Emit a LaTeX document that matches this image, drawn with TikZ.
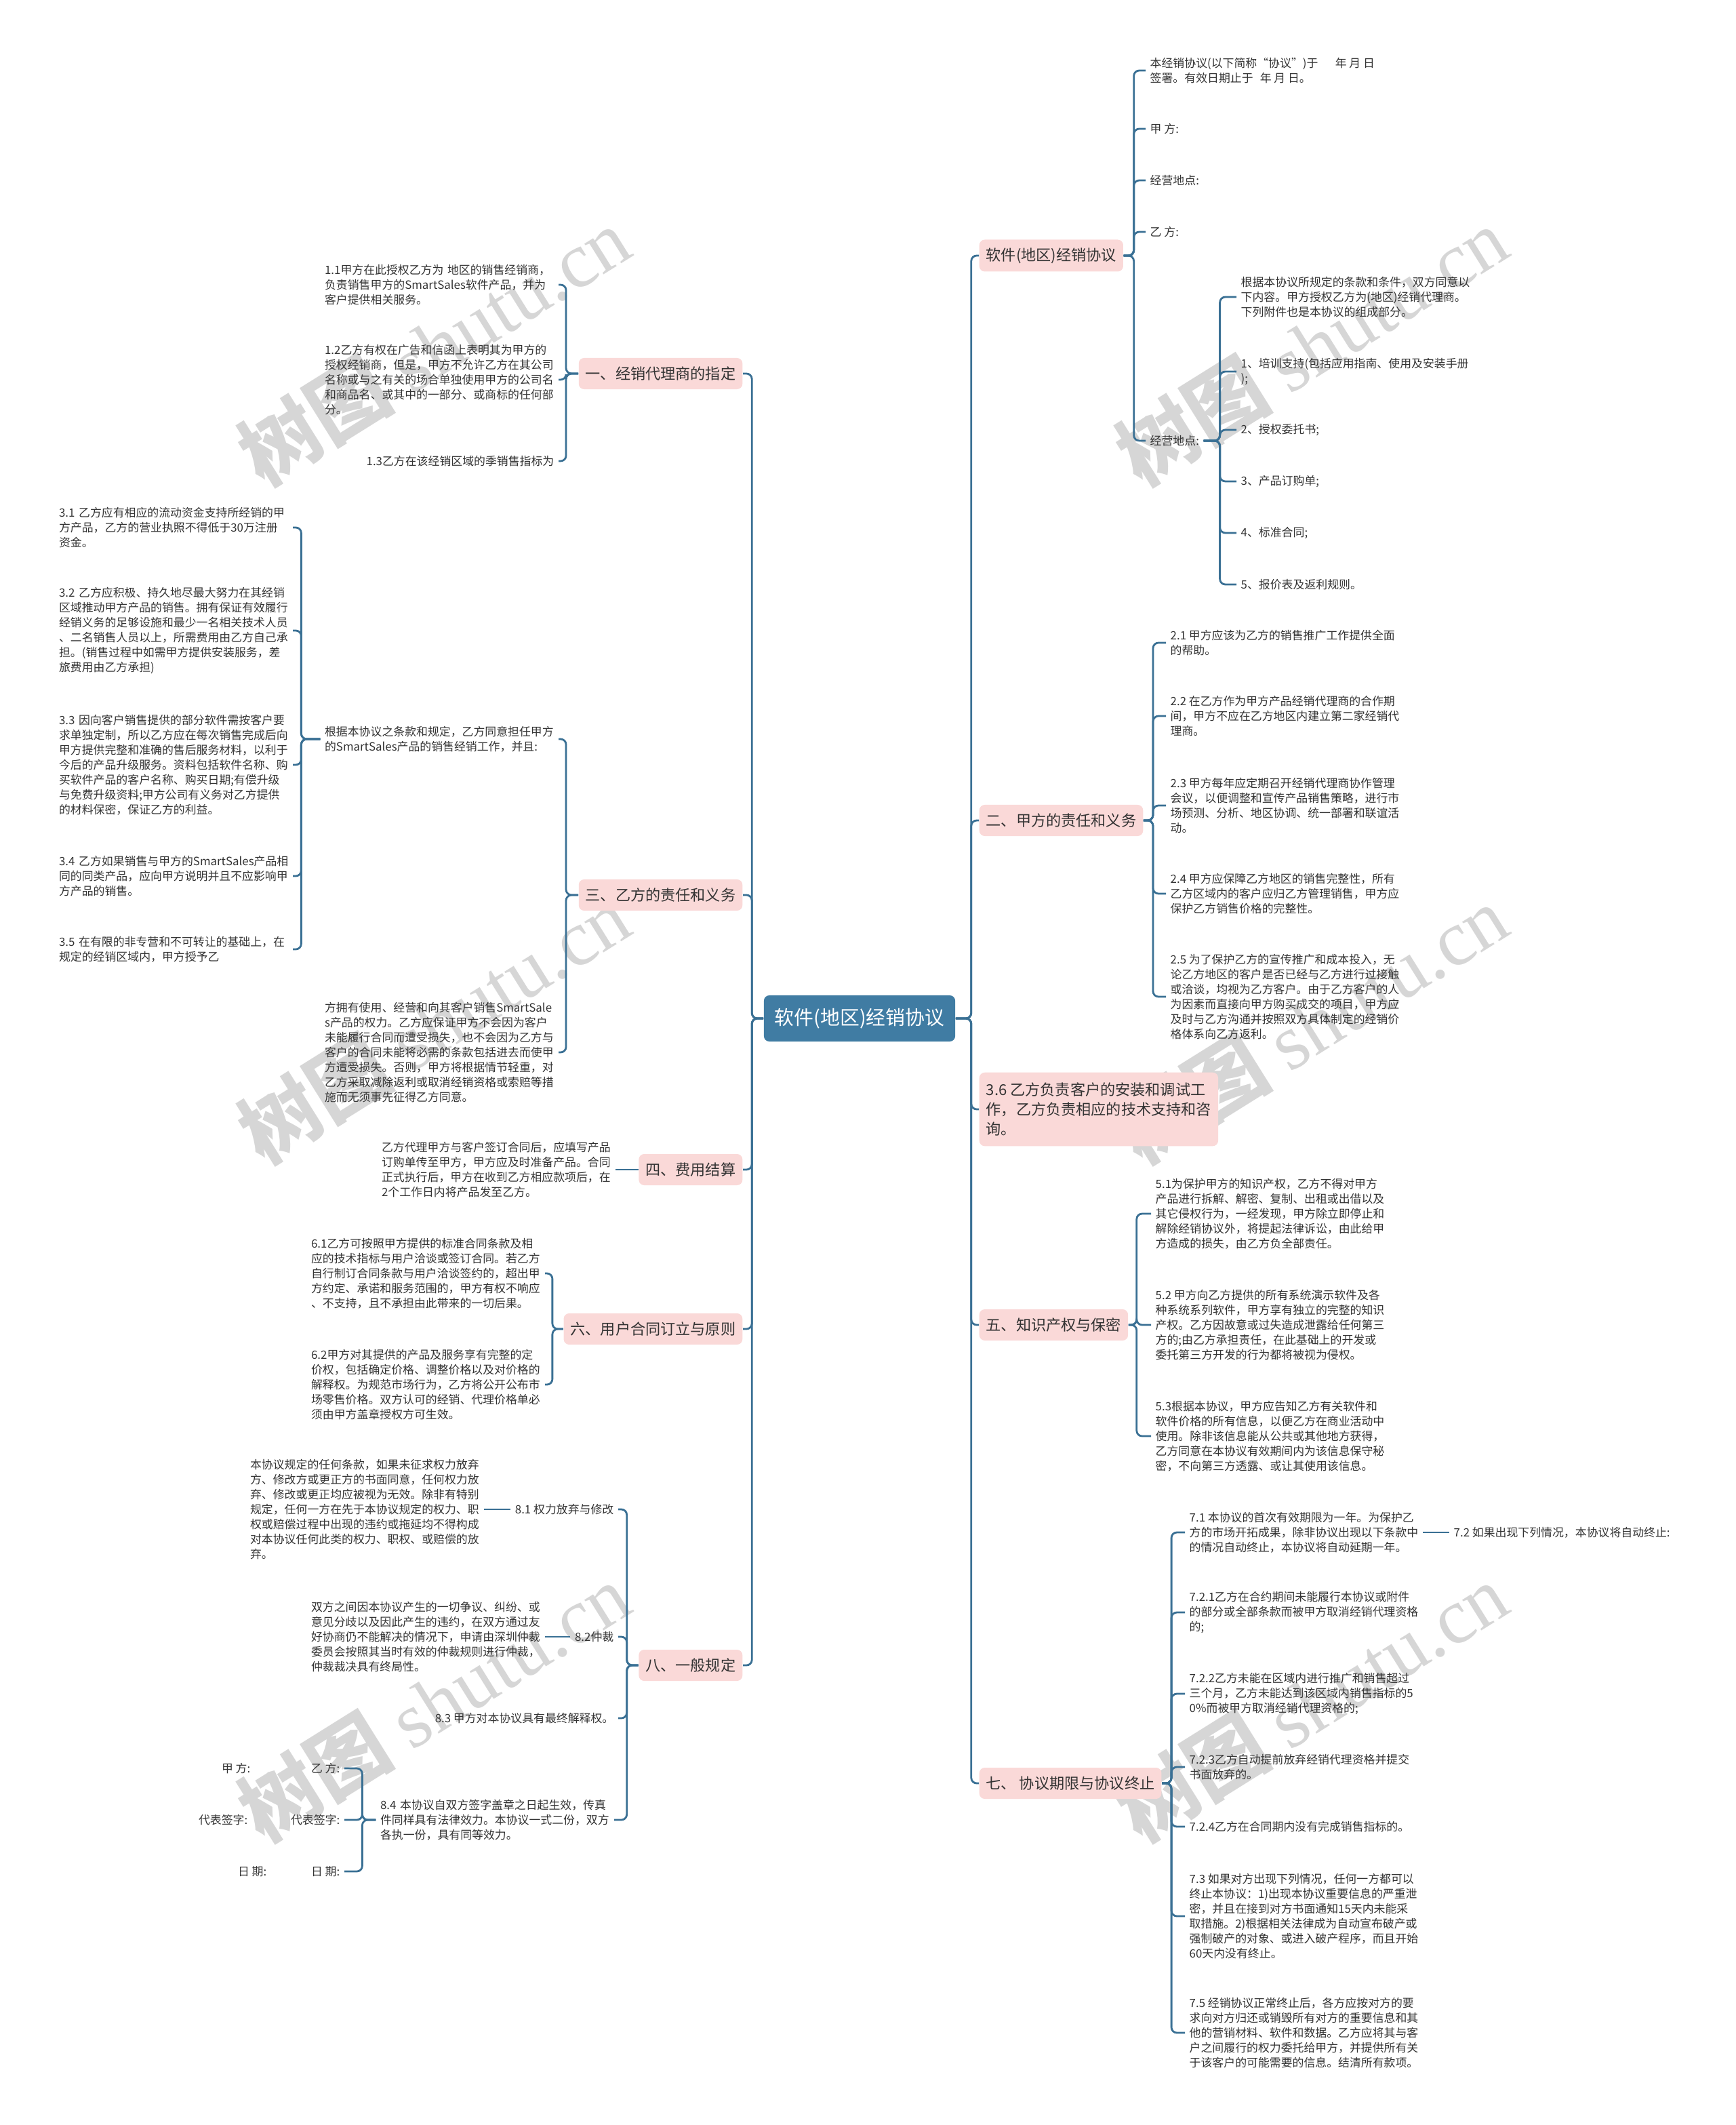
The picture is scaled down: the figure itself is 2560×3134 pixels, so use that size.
\documentclass[tikz,border=0pt]{standalone}
\usepackage{fontspec}
\setmainfont{Noto Sans CJK SC}
\newfontfamily\wmlatin{Liberation Serif}
\definecolor{ink}{RGB}{51,51,51}
\definecolor{pinkbox}{RGB}{250,217,216}
\definecolor{rootblue}{RGB}{64,124,163}
\definecolor{linkblue}{RGB}{58,112,148}
\definecolor{wmgray}{RGB}{214,214,214}
\hyphenpenalty=10000
\exhyphenpenalty=10000

\begin{document}
\begin{tikzpicture}[x=0.01cm,y=-0.01cm,
 every node/.style={text=ink},
 leaf/.style={font=\fontsize{4.8pt}{6.26pt}\selectfont,align=left,inner xsep=0.6mm,inner ysep=0.4mm},
 leafr/.style={leaf,anchor=west},
 leafl/.style={leaf,anchor=east},
 block/.style={leafl,text width=33.8mm},
 topic/.style={fill=pinkbox,rounded corners=0.8mm,font=\fontsize{6.3pt}{8.25pt}\selectfont,inner xsep=1mm,inner ysep=1.2mm,minimum height=4.6mm,align=left},
 topicr/.style={topic,anchor=west},
 topicl/.style={topic,anchor=east},
 central/.style={fill=rootblue,text=white,rounded corners=0.8mm,font=\fontsize{8.2pt}{10pt}\selectfont,minimum width=28.2mm,minimum height=6.8mm},
 branchline/.style={draw=linkblue,line width=0.8pt,rounded corners=0.8mm},
 wmark/.style={text=wmgray,rotate=32,font=\fontsize{33pt}{33pt}\selectfont}]
\useasboundingbox (0,0) rectangle (2560,3134);
\node[wmark] (wm1) at (640,510) {{\bfseries 树图} {\wmlatin shutu.cn}};
\node[wmark] (wm2) at (1935,510) {{\bfseries 树图} {\wmlatin shutu.cn}};
\node[wmark] (wm3) at (640,1510) {{\bfseries 树图} {\wmlatin shutu.cn}};
\node[wmark] (wm4) at (1935,1510) {{\bfseries 树图} {\wmlatin shutu.cn}};
\node[wmark] (wm5) at (640,2510) {{\bfseries 树图} {\wmlatin shutu.cn}};
\node[wmark] (wm6) at (1935,2510) {{\bfseries 树图} {\wmlatin shutu.cn}};

\node[central] (root) at (1268,1502) {软件(地区)经销协议};

\node[topicr] (r1) at (1444,377) {软件(地区)经销协议};
\node[leafr] (r1a) at (1690,104) {本经销协议(以下简称“协议”)于\hspace{1.5em}年~月~日\\签署。有效日期止于\hspace{0.6em}年~月~日。};
\node[leafr] (r1b) at (1690,190) {甲~方:};
\node[leafr] (r1c) at (1690,266) {经营地点:};
\node[leafr] (r1d) at (1690,342) {乙~方:};
\node[leafr] (r1e) at (1690,650) {经营地点:};
\node[leafr] (r1e1) at (1824,438) {根据本协议所规定的条款和条件，双方同意以\\下内容。甲方授权乙方为(地区)经销代理商。\\下列附件也是本协议的组成部分。};
\node[leafr] (r1e2) at (1824,548) {1、培训支持(包括应用指南、使用及安装手册\\);};
\node[leafr] (r1e3) at (1824,634) {2、授权委托书;};
\node[leafr] (r1e4) at (1824,710) {3、产品订购单;};
\node[leafr] (r1e5) at (1824,786) {4、标准合同;};
\node[leafr] (r1e6) at (1824,862) {5、报价表及返利规则。};

\node[topicr] (r2) at (1444,1210) {二、甲方的责任和义务};
\node[leafr] (r2a) at (1720,948) {2.1~甲方应该为乙方的销售推广工作提供全面\\的帮助。};
\node[leafr] (r2b) at (1720,1056) {2.2~在乙方作为甲方产品经销代理商的合作期\\间，甲方不应在乙方地区内建立第二家经销代\\理商。};
\node[leafr] (r2c) at (1720,1188) {2.3~甲方每年应定期召开经销代理商协作管理\\会议，以便调整和宣传产品销售策略，进行市\\场预测、分析、地区协调、统一部署和联谊活\\动。};
\node[leafr] (r2d) at (1720,1318) {2.4~甲方应保障乙方地区的销售完整性，所有\\乙方区域内的客户应归乙方管理销售，甲方应\\保护乙方销售价格的完整性。};
\node[leafr] (r2e) at (1720,1470) {2.5~为了保护乙方的宣传推广和成本投入，无\\论乙方地区的客户是否已经与乙方进行过接触\\或洽谈，均视为乙方客户。由于乙方客户的人\\为因素而直接向甲方购买成交的项目，甲方应\\及时与乙方沟通并按照双方具体制定的经销价\\格体系向乙方返利。};

\node[topicr,inner ysep=1.5mm] (r3) at (1444,1636) {3.6~乙方负责客户的安装和调试工\\作，乙方负责相应的技术支持和咨\\询。};

\node[topicr] (r4) at (1444,1954) {五、知识产权与保密};
\node[leafr] (r4a) at (1698,1790) {5.1为保护甲方的知识产权，乙方不得对甲方\\产品进行拆解、解密、复制、出租或出借以及\\其它侵权行为，一经发现，甲方除立即停止和\\解除经销协议外，将提起法律诉讼，由此给甲\\方造成的损失，由乙方负全部责任。};
\node[leafr] (r4b) at (1698,1954) {5.2~甲方向乙方提供的所有系统演示软件及各\\种系统系列软件，甲方享有独立的完整的知识\\产权。乙方因故意或过失造成泄露给任何第三\\方的;由乙方承担责任，在此基础上的开发或\\委托第三方开发的行为都将被视为侵权。};
\node[leafr] (r4c) at (1698,2118) {5.3根据本协议，甲方应告知乙方有关软件和\\软件价格的所有信息，以便乙方在商业活动中\\使用。除非该信息能从公共或其他地方获得，\\乙方同意在本协议有效期间内为该信息保守秘\\密，不向第三方透露、或让其使用该信息。};

\node[topicr] (r5) at (1444,2630) {七、~协议期限与协议终止};
\node[leafr] (r5a) at (1748,2260) {7.1~本协议的首次有效期限为一年。为保护乙\\方的市场开拓成果，除非协议出现以下条款中\\的情况自动终止，本协议将自动延期一年。};
\node[leafr] (r5a1) at (2138,2260) {7.2~如果出现下列情况，本协议将自动终止:};
\node[leafr] (r5b) at (1748,2378) {7.2.1乙方在合约期间未能履行本协议或附件\\的部分或全部条款而被甲方取消经销代理资格\\的;};
\node[leafr] (r5c) at (1748,2498) {7.2.2乙方未能在区域内进行推广和销售超过\\三个月，乙方未能达到该区域内销售指标的5\\0\%而被甲方取消经销代理资格的;};
\node[leafr] (r5d) at (1748,2606) {7.2.3乙方自动提前放弃经销代理资格并提交\\书面放弃的。};
\node[leafr] (r5e) at (1748,2694) {7.2.4乙方在合同期内没有完成销售指标的。};
\node[leafr] (r5f) at (1748,2826) {7.3~如果对方出现下列情况，任何一方都可以\\终止本协议：1)出现本协议重要信息的严重泄\\密，并且在接到对方书面通知15天内未能采\\取措施。2)根据相关法律成为自动宣布破产或\\强制破产的对象、或进入破产程序，而且开始\\60天内没有终止。};
\node[leafr] (r5g) at (1748,2998) {7.5~经销协议正常终止后，各方应按对方的要\\求向对方归还或销毁所有对方的重要信息和其\\他的营销材料、软件和数据。乙方应将其与客\\户之间履行的权力委托给甲方，并提供所有关\\于该客户的可能需要的信息。结清所有款项。};

\node[topicl] (l1) at (1096,551) {一、经销代理商的指定};
\node[block] (l1a) at (824,420) {1.1甲方在此授权乙方为~地区的销售经销商，\\负责销售甲方的SmartSales软件产品，并为\\客户提供相关服务。};
\node[block] (l1b) at (824,560) {1.2乙方有权在广告和信函上表明其为甲方的\\授权经销商，但是，甲方不允许乙方在其公司\\名称或与之有关的场合单独使用甲方的公司名\\和商品名、或其中的一部分、或商标的任何部\\分。};
\node[leafl] (l1c) at (824,680) {1.3乙方在该经销区域的季销售指标为};

\node[topicl] (l2) at (1096,1320) {三、乙方的责任和义务};
\node[block] (l2a) at (824,1090) {根据本协议之条款和规定，乙方同意担任甲方\\的SmartSales产品的销售经销工作，并且:};
\node[block] (l2b) at (824,1552) {方拥有使用、经营和向其客户销售SmartSale\\s产品的权力。乙方应保证甲方不会因为客户\\未能履行合同而遭受损失，也不会因为乙方与\\客户的合同未能将必需的条款包括进去而使甲\\方遭受损失。否则，甲方将根据情节轻重，对\\乙方采取减除返利或取消经销资格或索赔等措\\施而无须事先征得乙方同意。};
\node[block] (l2a1) at (432,778) {3.1~乙方应有相应的流动资金支持所经销的甲\\方产品，乙方的营业执照不得低于30万注册\\资金。};
\node[block] (l2a2) at (432,930) {3.2~乙方应积极、持久地尽最大努力在其经销\\区域推动甲方产品的销售。拥有保证有效履行\\经销义务的足够设施和最少一名相关技术人员\\、二名销售人员以上，所需费用由乙方自己承\\担。(销售过程中如需甲方提供安装服务，差\\旅费用由乙方承担)};
\node[block] (l2a3) at (432,1128) {3.3~因向客户销售提供的部分软件需按客户要\\求单独定制，所以乙方应在每次销售完成后向\\甲方提供完整和准确的售后服务材料，以利于\\今后的产品升级服务。资料包括软件名称、购\\买软件产品的客户名称、购买日期;有偿升级\\与免费升级资料;甲方公司有义务对乙方提供\\的材料保密，保证乙方的利益。};
\node[block] (l2a4) at (432,1292) {3.4~乙方如果销售与甲方的SmartSales产品相\\同的同类产品，应向甲方说明并且不应影响甲\\方产品的销售。};
\node[block] (l2a5) at (432,1400) {3.5~在有限的非专营和不可转让的基础上，在\\规定的经销区域内，甲方授予乙};

\node[topicl] (l3) at (1096,1725) {四、费用结算};
\node[block] (l3a) at (908,1725) {乙方代理甲方与客户签订合同后，应填写产品\\订购单传至甲方，甲方应及时准备产品。合同\\正式执行后，甲方在收到乙方相应款项后，在\\2个工作日内将产品发至乙方。};

\node[topicl] (l4) at (1096,1960) {六、用户合同订立与原则};
\node[block] (l4a) at (804,1878) {6.1乙方可按照甲方提供的标准合同条款及相\\应的技术指标与用户洽谈或签订合同。若乙方\\自行制订合同条款与用户洽谈签约的，超出甲\\方约定、承诺和服务范围的，甲方有权不响应\\、不支持，且不承担由此带来的一切后果。};
\node[block] (l4b) at (804,2042) {6.2甲方对其提供的产品及服务享有完整的定\\价权，包括确定价格、调整价格以及对价格的\\解释权。为规范市场行为，乙方将公开公布市\\场零售价格。双方认可的经销、代理价格单必\\须由甲方盖章授权方可生效。};

\node[topicl] (l5) at (1096,2456) {八、一般规定};
\node[leafl] (l5a) at (912,2226) {8.1~权力放弃与修改};
\node[block] (l5a1) at (714,2226) {本协议规定的任何条款，如果未征求权力放弃\\方、修改方或更正方的书面同意，任何权力放\\弃、修改或更正均应被视为无效。除非有特别\\规定，任何一方在先于本协议规定的权力、职\\权或赔偿过程中出现的违约或拖延均不得构成\\对本协议任何此类的权力、职权、或赔偿的放\\弃。};
\node[leafl] (l5b) at (912,2414) {8.2仲裁};
\node[block] (l5b1) at (804,2414) {双方之间因本协议产生的一切争议、纠纷、或\\意见分歧以及因此产生的违约，在双方通过友\\好协商仍不能解决的情况下，申请由深圳仲裁\\委员会按照其当时有效的仲裁规则进行仲裁，\\仲裁裁决具有终局性。};
\node[leafl] (l5c) at (912,2534) {8.3~甲方对本协议具有最终解释权。};
\node[block] (l5d) at (906,2684) {8.4~本协议自双方签字盖章之日起生效，传真\\件同样具有法律效力。本协议一式二份，双方\\各执一份，具有同等效力。};
\node[leafl] (l5d1) at (508,2608) {乙~方:};
\node[leafl] (l5d2) at (508,2684) {代表签字:};
\node[leafl] (l5d3) at (508,2760) {日~期:};
\node[leafl] (l5d1a) at (376,2608) {甲~方:};
\node[leafl] (l5d2a) at (372,2684) {代表签字:};
\node[leafl] (l5d3a) at (400,2760) {日~期:};

\draw[branchline] (root.east) -- ++(23,0) |- (r1.west);
\draw[branchline] (root.east) -- ++(23,0) |- (r2.west);
\draw[branchline] (root.east) -- ++(23,0) |- (r3.west);
\draw[branchline] (root.east) -- ++(23,0) |- (r4.west);
\draw[branchline] (root.east) -- ++(23,0) |- (r5.west);
\draw[branchline] (root.west) -- ++(-17,0) |- (l1.east);
\draw[branchline] (root.west) -- ++(-17,0) |- (l2.east);
\draw[branchline] (root.west) -- ++(-17,0) |- (l3.east);
\draw[branchline] (root.west) -- ++(-17,0) |- (l4.east);
\draw[branchline] (root.west) -- ++(-17,0) |- (l5.east);

\draw[branchline] (r1.east) -- ++(15,0) |- (r1a.west);
\draw[branchline] (r1.east) -- ++(15,0) |- (r1b.west);
\draw[branchline] (r1.east) -- ++(15,0) |- (r1c.west);
\draw[branchline] (r1.east) -- ++(15,0) |- (r1d.west);
\draw[branchline] (r1.east) -- ++(15,0) |- (r1e.west);
\draw[branchline] (r1e.east) -- ++(24,0) |- (r1e1.west);
\draw[branchline] (r1e.east) -- ++(24,0) |- (r1e2.west);
\draw[branchline] (r1e.east) -- ++(24,0) |- (r1e3.west);
\draw[branchline] (r1e.east) -- ++(24,0) |- (r1e4.west);
\draw[branchline] (r1e.east) -- ++(24,0) |- (r1e5.west);
\draw[branchline] (r1e.east) -- ++(24,0) |- (r1e6.west);

\draw[branchline] (r2.east) -- ++(14,0) |- (r2a.west);
\draw[branchline] (r2.east) -- ++(14,0) |- (r2b.west);
\draw[branchline] (r2.east) -- ++(14,0) |- (r2c.west);
\draw[branchline] (r2.east) -- ++(14,0) |- (r2d.west);
\draw[branchline] (r2.east) -- ++(14,0) |- (r2e.west);

\draw[branchline] (r4.east) -- ++(12,0) |- (r4a.west);
\draw[branchline] (r4.east) -- ++(12,0) |- (r4b.west);
\draw[branchline] (r4.east) -- ++(12,0) |- (r4c.west);

\draw[branchline] (r5.east) -- ++(14,0) |- (r5a.west);
\draw[branchline] (r5.east) -- ++(14,0) |- (r5b.west);
\draw[branchline] (r5.east) -- ++(14,0) |- (r5c.west);
\draw[branchline] (r5.east) -- ++(14,0) |- (r5d.west);
\draw[branchline] (r5.east) -- ++(14,0) |- (r5e.west);
\draw[branchline] (r5.east) -- ++(14,0) |- (r5f.west);
\draw[branchline] (r5.east) -- ++(14,0) |- (r5g.west);
\draw[branchline] (r5a.east) -- (r5a1.west);

\draw[branchline] (l1.west) -- ++(-18,0) |- (l1a.east);
\draw[branchline] (l1.west) -- ++(-18,0) |- (l1b.east);
\draw[branchline] (l1.west) -- ++(-18,0) |- (l1c.east);

\draw[branchline] (l2.west) -- ++(-18,0) |- (l2a.east);
\draw[branchline] (l2.west) -- ++(-18,0) |- (l2b.east);
\draw[branchline] (l2a.west) -- ++(-28,0) |- (l2a1.east);
\draw[branchline] (l2a.west) -- ++(-28,0) |- (l2a2.east);
\draw[branchline] (l2a.west) -- ++(-28,0) |- (l2a3.east);
\draw[branchline] (l2a.west) -- ++(-28,0) |- (l2a4.east);
\draw[branchline] (l2a.west) -- ++(-28,0) |- (l2a5.east);

\draw[branchline] (l3.west) -- (l3a.east);

\draw[branchline] (l4.west) -- ++(-16,0) |- (l4a.east);
\draw[branchline] (l4.west) -- ++(-16,0) |- (l4b.east);

\draw[branchline] (l5.west) -- ++(-17,0) |- (l5a.east);
\draw[branchline] (l5.west) -- ++(-17,0) |- (l5b.east);
\draw[branchline] (l5.west) -- ++(-17,0) |- (l5c.east);
\draw[branchline] (l5.west) -- ++(-17,0) |- (l5d.east);
\draw[branchline] (l5a.west) -- (l5a1.east);
\draw[branchline] (l5b.west) -- (l5b1.east);
\draw[branchline] (l5d.west) -- ++(-20,0) |- (l5d1.east);
\draw[branchline] (l5d.west) -- ++(-20,0) |- (l5d2.east);
\draw[branchline] (l5d.west) -- ++(-20,0) |- (l5d3.east);
\end{tikzpicture}
\end{document}
